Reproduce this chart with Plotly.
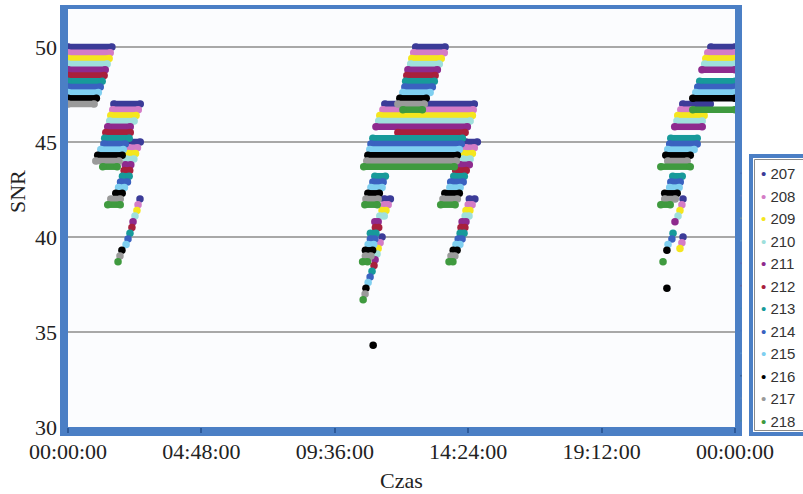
import plotly.graph_objects as go

# ---------------- data ----------------
series_names = ["207", "208", "209", "210", "211", "212",
                "213", "214", "215", "216", "217", "218"]
series_colors = ["#3b3b98", "#d47cc6", "#f5e61e", "#9fe0dc", "#8e2a8e", "#a8203c",
                 "#179a9a", "#3a62c0", "#7fcff0", "#000000", "#9a9a9a", "#3f9a3f"]

# each entry: [time start (h), time end (h), SNR]; start == end -> single sample
seg_207 = [[0.0, 1.58, 50.0], [1.65, 2.60, 47.0], [2.15, 2.60, 45.0], [2.59, 2.59, 42.0],
           [11.30, 11.30, 40.0], [11.38, 11.60, 42.0], [11.40, 14.62, 47.0], [12.51, 13.57, 50.0],
           [14.31, 14.73, 45.0], [14.44, 14.64, 42.0],
           [23.13, 24.0, 50.0], [22.12, 23.11, 47.0], [22.13, 22.13, 42.0], [22.13, 22.13, 40.0]]
seg_208 = [[0.0, 1.52, 49.7], [1.61, 2.53, 46.7], [2.20, 2.50, 44.7], [2.52, 2.52, 41.7],
           [11.23, 11.23, 39.7], [11.38, 11.52, 41.7], [11.33, 14.58, 46.7], [12.44, 13.54, 49.7],
           [14.31, 14.62, 44.7], [14.40, 14.54, 41.7],
           [23.02, 24.0, 49.7], [22.05, 22.46, 46.7], [22.09, 22.09, 41.7], [22.09, 22.09, 39.7]]
seg_209 = [[0.0, 1.48, 49.4], [1.54, 2.45, 46.4], [2.17, 2.43, 44.4], [2.48, 2.48, 41.4],
           [11.16, 11.16, 39.4], [11.30, 11.44, 41.4], [11.22, 14.55, 46.4], [12.37, 13.43, 49.4],
           [14.24, 14.55, 44.4], [14.32, 14.46, 41.4],
           [22.95, 24.0, 49.4], [21.94, 22.89, 46.4], [22.02, 22.02, 41.4], [22.02, 22.02, 39.4]]
seg_210 = [[0.0, 1.41, 49.1], [1.50, 2.38, 46.1], [2.10, 2.37, 44.1], [2.41, 2.41, 41.1],
           [11.12, 11.12, 39.1], [11.22, 11.38, 41.1], [11.18, 14.47, 46.1], [12.33, 13.36, 49.1],
           [14.21, 14.47, 44.1], [14.29, 14.43, 41.1],
           [22.91, 24.0, 49.1], [21.91, 22.82, 46.1], [21.95, 21.95, 41.1]]
seg_211 = [[0.0, 1.34, 48.8], [1.43, 2.24, 45.8], [2.06, 2.26, 43.8], [2.34, 2.34, 40.8],
           [11.05, 11.05, 38.8], [11.04, 11.16, 40.8], [11.08, 14.37, 45.8], [12.23, 13.29, 48.8],
           [14.10, 14.44, 43.8], [14.18, 14.32, 40.8],
           [22.81, 24.0, 48.8], [21.83, 22.82, 45.8], [21.84, 21.84, 40.8]]
seg_212 = [[0.0, 1.30, 48.5], [1.36, 2.24, 45.5], [2.02, 2.22, 43.5], [2.30, 2.30, 40.5],
           [11.01, 11.01, 38.5], [11.06, 11.18, 40.5], [11.87, 14.29, 45.5], [12.19, 13.21, 48.5],
           [13.95, 14.33, 43.5], [14.14, 14.28, 40.5]]
seg_213 = [[0.0, 1.23, 48.2], [1.32, 2.20, 45.2], [1.96, 2.20, 43.2], [2.23, 2.23, 40.2],
           [10.94, 10.94, 38.2], [10.88, 11.08, 40.2], [11.04, 11.42, 43.2], [10.97, 14.19, 45.2],
           [12.15, 13.18, 48.2], [13.88, 14.26, 43.2], [14.11, 14.25, 40.2],
           [22.73, 24.0, 48.2], [21.69, 22.64, 45.2], [21.76, 22.10, 43.2], [21.77, 21.77, 40.2]]
seg_214 = [[0.0, 1.16, 47.9], [1.29, 2.06, 44.9], [1.89, 2.14, 42.9], [2.16, 2.16, 39.9],
           [10.87, 10.87, 37.9], [10.88, 11.04, 39.9], [10.97, 11.34, 42.9], [10.90, 14.15, 44.9],
           [12.12, 13.11, 47.9], [13.77, 14.22, 42.9], [14.04, 14.18, 39.9],
           [22.66, 24.0, 47.9], [21.65, 22.64, 44.9], [21.69, 22.03, 42.9], [21.73, 21.73, 39.9]]
seg_215 = [[0.0, 1.09, 47.6], [1.18, 1.99, 44.6], [1.82, 2.03, 42.6], [2.09, 2.09, 39.6],
           [10.80, 10.80, 37.6], [10.80, 11.00, 39.6], [10.90, 11.30, 42.6], [10.86, 14.08, 44.6],
           [12.05, 13.03, 47.6], [13.74, 14.11, 42.6], [13.96, 14.10, 39.6],
           [22.59, 24.0, 47.6], [21.58, 22.53, 44.6], [21.65, 21.99, 42.6], [21.59, 21.59, 39.6]]
seg_216 = [[0.0, 1.02, 47.3], [1.07, 1.95, 44.3], [1.72, 1.95, 42.3], [1.94, 1.94, 39.3],
           [10.72, 10.72, 37.3], [10.98, 10.98, 34.3], [10.70, 10.96, 39.3], [10.79, 11.20, 42.3],
           [10.79, 14.01, 44.3], [11.94, 12.89, 47.3], [13.56, 14.08, 42.3], [13.86, 14.00, 39.3],
           [22.48, 24.0, 47.3], [21.51, 22.39, 44.3], [21.47, 21.92, 42.3], [21.55, 21.55, 39.3],
           [21.55, 21.55, 37.3]]
seg_217 = [[0.0, 0.94, 47.0], [1.00, 1.84, 44.0], [1.54, 1.88, 42.0], [1.87, 1.87, 39.0],
           [10.69, 10.69, 37.0], [10.70, 10.90, 39.0], [10.72, 11.16, 42.0], [10.75, 13.97, 44.0],
           [11.87, 12.82, 47.0], [13.49, 14.01, 42.0], [13.78, 13.92, 39.0],
           [21.58, 22.28, 44.0], [21.47, 21.85, 42.0]]
seg_218 = [[1.25, 1.77, 43.7], [1.43, 1.88, 41.7], [1.80, 1.80, 38.7],
           [10.62, 10.62, 36.7], [10.60, 10.78, 38.7], [10.68, 11.13, 41.7], [10.64, 13.90, 43.7],
           [12.05, 12.75, 46.7], [13.41, 13.93, 41.7], [13.71, 13.85, 38.7],
           [22.48, 24.0, 46.7], [21.33, 22.39, 43.7], [21.33, 21.67, 41.7], [21.41, 21.41, 38.7]]

series_segments = [seg_207, seg_208, seg_209, seg_210, seg_211, seg_212,
                   seg_213, seg_214, seg_215, seg_216, seg_217, seg_218]

x_tick_vals = [0, 4.8, 9.6, 14.4, 19.2, 24]
x_tick_text = ["00:00:00", "04:48:00", "09:36:00", "14:24:00", "19:12:00", "00:00:00"]
y_tick_vals = [30, 35, 40, 45, 50]

# ---------------- figure ----------------
fig = go.Figure()
for name, color, segs in zip(series_names, series_colors, series_segments):
    xs, ys = [], []
    for t0, t1, s in segs:
        if t0 == t1:
            xs += [t0, None]
            ys += [s, None]
        else:
            xs += [t0, t1, None]
            ys += [s, s, None]
    fig.add_trace(go.Scatter(x=xs, y=ys, mode="lines+markers", name=name,
                             line=dict(color=color, width=6.5),
                             marker=dict(color=color, size=7.5),
                             showlegend=False, legendgroup=name, hoverinfo="skip"))

# legend entries (bullet in series colour + label)
for name, color in zip(series_names, series_colors):
    fig.add_trace(go.Scatter(x=[None], y=[None], mode="markers",
                             name=f'<span style="color:{color}">\u2022</span> {name}',
                             marker=dict(color=color, size=1, opacity=0),
                             legendgroup=name, showlegend=True))

PW, PH = 667.0, 418.0
BLUE = "#4b7fc5"
def px(x):
    return (x - 68) / PW
def py(y):
    return (427 - y) / PH

shapes = [
    # frame around plot area
    dict(type="rect", xref="paper", yref="paper", x0=px(60), x1=px(68), y0=py(436), y1=py(5),
         fillcolor=BLUE, line=dict(width=0), layer="below"),
    dict(type="rect", xref="paper", yref="paper", x0=px(735), x1=px(742), y0=py(436), y1=py(5),
         fillcolor=BLUE, line=dict(width=0), layer="below"),
    dict(type="rect", xref="paper", yref="paper", x0=px(60), x1=px(742), y0=py(9), y1=py(5),
         fillcolor=BLUE, line=dict(width=0), layer="below"),
    dict(type="rect", xref="paper", yref="paper", x0=px(60), x1=px(742), y0=py(436), y1=py(427),
         fillcolor=BLUE, line=dict(width=0), layer="below"),
    # legend box
    dict(type="rect", xref="paper", yref="paper", x0=px(751), x1=px(830), y0=py(434), y1=py(156),
         fillcolor="white", line=dict(color=BLUE, width=4), layer="below"),
    dict(type="rect", xref="paper", yref="paper", x0=px(754.5), x1=px(830), y0=py(430.5), y1=py(159.5),
         fillcolor="rgba(0,0,0,0)", line=dict(color="#8a8a8a", width=1), layer="below"),
]

fig.update_layout(
    width=803, height=494,
    margin=dict(l=68, r=68, t=9, b=67, autoexpand=False),
    paper_bgcolor="white",
    plot_bgcolor="#fbfcfe",
    shapes=shapes,
    showlegend=True,
    legend=dict(x=px(721), xanchor="left", y=py(157), yanchor="top",
                bgcolor="rgba(0,0,0,0)", borderwidth=0,
                font=dict(family="Liberation Sans, Arial, sans-serif", size=15, color="#333333"),
                itemwidth=30, tracegroupgap=0, traceorder="normal"),
    annotations=[dict(text="SNR", xref="paper", yref="paper", x=px(17), y=py(192),
                      textangle=-90, showarrow=False, xanchor="center", yanchor="middle",
                      font=dict(family="Liberation Serif, Times New Roman, serif", size=22,
                                color="#222222"))],
    xaxis=dict(range=[0, 24], tickvals=x_tick_vals, ticktext=x_tick_text,
               showgrid=False, zeroline=False, showline=False,
               ticks="outside", ticklen=5, tickwidth=2, tickcolor="#2d5a9a",
               tickfont=dict(family="Liberation Serif, Times New Roman, serif", size=22,
                             color="#222222"),
               title=dict(text="Czas", standoff=9,
                          font=dict(family="Liberation Serif, Times New Roman, serif", size=22,
                                    color="#222222"))),
    yaxis=dict(range=[30, 52], tickvals=y_tick_vals, showgrid=True,
               gridcolor="#a8a8a8", gridwidth=2, zeroline=False, showline=False,
               ticks="", ticklabelstandoff=10,
               tickfont=dict(family="Liberation Serif, Times New Roman, serif", size=22,
                             color="#222222")),
)

fig.write_html("out.html")
